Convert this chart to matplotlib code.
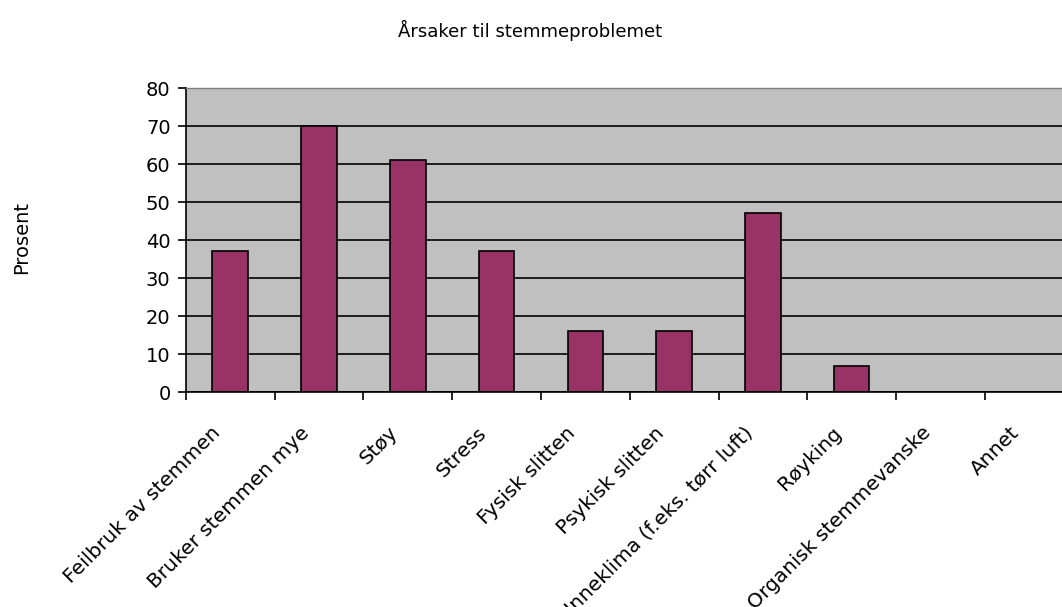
import matplotlib.pyplot as plt
import numpy as np
from matplotlib.transforms import ScaledTranslation

plt.rcParams['font.family'] = ['DejaVu Sans']

kategorier = ["Feilbruk av stemmen", "Bruker stemmen mye", "Støy", "Stress",
              "Fysisk slitten", "Psykisk slitten", "Inneklima (f.eks. tørr luft)",
              "Røyking", "Organisk stemmevanske", "Annet"]
prosent = [37, 70, 61, 37, 16, 16, 47, 7, 0, 0]

fig = plt.figure(figsize=(10.62, 6.07), dpi=100)
ax = fig.add_axes([0.175, 0.354, 0.836, 0.501])

x = np.arange(len(kategorier))
ax.set_facecolor('#c0c0c0')
ax.set_axisbelow(True)
ax.yaxis.grid(True, color='black', linewidth=1.2)
ax.bar(x, prosent, width=0.4, color='#993366', edgecolor='black', linewidth=1.2)

ax.set_xlim(-0.5, len(kategorier) - 0.5)
ax.set_ylim(0, 80)
ax.set_yticks(range(0, 81, 10))
ax.set_xticks(x)
ax.set_xticklabels(kategorier, rotation=45, ha='right', va='baseline',
                   rotation_mode='anchor', fontsize=14.5)
ax.set_xticks(np.arange(-0.5, len(kategorier)), minor=True)
ax.tick_params(axis='x', which='major', length=0, pad=30)
ax.tick_params(axis='x', which='minor', length=6, direction='out', width=1.2)
ax.tick_params(axis='y', length=6, width=1.2, labelsize=14, pad=5)

shift = ScaledTranslation(-9 / 100, 0, fig.dpi_scale_trans)
for lab in ax.get_xticklabels():
    lab.set_transform(lab.get_transform() + shift)

# top of the plot area is a thin grey edge, not a black grid line
ax.get_ygridlines()[-1].set_visible(False)
ax.spines['right'].set_visible(False)
ax.spines['top'].set_color('#808080')
ax.spines['top'].set_linewidth(1)
for s in ['left', 'bottom']:
    ax.spines[s].set_linewidth(1.2)

fig.text(22 / 1062, 1 - 238 / 607, "Prosent", rotation=90, ha='center', va='center', fontsize=14)
fig.text(530 / 1062, 1 - 30 / 607, "Årsaker til stemmeproblemet", ha='center', va='center', fontsize=13)

fig.savefig('out.png', dpi=100)
